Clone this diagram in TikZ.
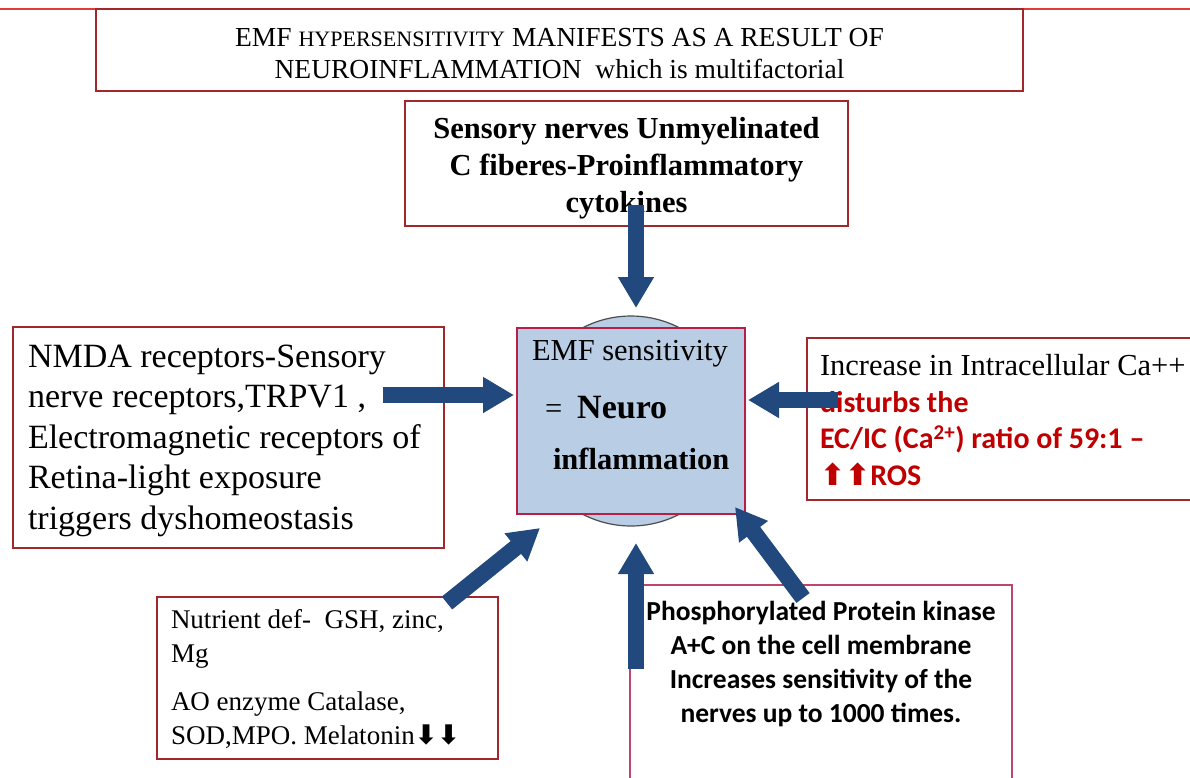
\documentclass[tikz,border=0pt]{standalone}
\usepackage{fontspec}
\setmainfont{Liberation Serif}
\newfontfamily\calfont{Carlito}
\newfontfamily\arrowfont{DejaVu Sans}
\usetikzlibrary{arrows.meta,calc}
\definecolor{boxred}{RGB}{160,40,45}
\definecolor{crimson}{RGB}{185,30,70}
\definecolor{pinkred}{RGB}{190,70,110}
\definecolor{arrowblue}{RGB}{33,73,125}
\definecolor{cfill}{RGB}{185,205,229}
\definecolor{redtext}{RGB}{192,0,0}
\definecolor{topred}{RGB}{225,60,60}
\tikzset{
  frame/.style={draw=boxred, line width=1.4pt, inner sep=0pt, outer sep=0pt},
  txt/.style={inner sep=0pt, outer sep=0pt},
  fat/.style={draw=arrowblue, line width=16.5pt, -{Triangle[length=31pt,width=34pt]}},
}
\begin{document}
\begin{tikzpicture}[x=1pt,y=-1pt]
\useasboundingbox (0,0) rectangle (1190,777);
\clip (0,0) rectangle (1190,777);
\draw[topred, line width=1.5pt] (0,9) -- (1190,9);

% boxes
\node[frame, minimum width=927pt, minimum height=82pt] (titlebox) at (559.5,50) {};
\node[frame, minimum width=443pt, minimum height=125pt] (sensbox) at (626.5,163.5) {};
\node[circle, draw=gray!60!black, fill=cfill, minimum size=210pt, line width=1.2pt, inner sep=0pt] (halo) at (631,421) {};
\node[frame, draw=crimson, fill=cfill, minimum width=228pt, minimum height=186pt] (core) at (631,421) {};
\node[frame, minimum width=431pt, minimum height=221pt] (nmdabox) at (228.5,437.5) {};
\node[frame, minimum width=393pt, minimum height=162pt] (cabox) at (1003.5,419) {};
\node[frame, minimum width=341pt, minimum height=162pt] (nutbox) at (327.5,678) {};
\node[frame, draw=pinkred, minimum width=382pt, minimum height=230pt] (pkbox) at (821,700) {};

% texts (base anchor = baseline of the last line)
\node[txt, align=center, anchor=base, font=\fontsize{27.5}{32}\selectfont] (titletext) at (559.5,78)
  {EMF {\fontsize{22}{32}\selectfont HYPERSENSITIVITY} MANIFESTS AS A RESULT OF\\NEUROINFLAMMATION\ \ which is multifactorial};
\node[txt, align=center, anchor=base, font=\fontsize{30.5}{37}\selectfont\bfseries] (senstext) at (626.5,212)
  {Sensory nerves Unmyelinated\\C fiberes-Proinflammatory\\cytokines};
\node[txt, align=left, anchor=base west, font=\fontsize{30.5}{58}\selectfont] (coretext) at (532,469)
  {EMF sensitivity\\\hspace*{13pt}=\hspace{15pt}{\fontsize{34}{58}\selectfont\bfseries Neuro}\\[-7pt]\hspace*{21pt}{\fontsize{30.5}{58}\selectfont\bfseries inflammation}};
\node[txt, align=left, anchor=base west, font=\fontsize{34}{40.5}\selectfont] (nmdatext) at (28,529)
  {NMDA receptors-Sensory\\nerve receptors,TRPV1 ,\\Electromagnetic receptors of\\Retina-light exposure\\triggers dyshomeostasis};
\node[txt, anchor=base west, font=\fontsize{30.5}{36}\selectfont] (catext) at (820,375)
  {Increase in Intracellular Ca++};
\node[txt, align=left, anchor=base west, text=redtext, font=\calfont\bfseries\fontsize{30}{36.5}\selectfont] (rostext) at (820,485)
  {disturbs the\\EC/IC (Ca\textsuperscript{2+}) ratio of 59:1 –\\{\arrowfont\bfseries ⬆⬆}ROS};
\node[txt, align=left, anchor=base west, font=\fontsize{27}{33.5}\selectfont] (nuttext) at (171,744)
  {Nutrient def-\ \ GSH, zinc,\\Mg\\[15pt]AO enzyme Catalase,\\SOD,MPO. Melatonin{\arrowfont\bfseries ⬇⬇}};
\node[txt, align=center, anchor=base, font=\calfont\bfseries\fontsize{27.5}{34}\selectfont] (pktext) at (821,722)
  {Phosphorylated Protein kinase\\A+C on the cell membrane\\Increases sensitivity of the\\nerves up to 1000 times.};

% arrows
\draw[fat] ($(sensbox.south)+(9.5,-21)$) -- ($(core.north)+(5,-20)$);
\draw[fat] ($(nmdabox.east)+(-61,-42.5)$) -- ($(core.west)+(-3,-26)$);
\draw[fat] ($(cabox.west)+(31,-19)$) -- ($(core.east)+(3,-21)$);
\draw[fat] ($(nutbox.north)+(119.5,6)$) -- ($(core.south west)+(23,14)$);
\draw[fat] ($(pkbox.west)+(6,-31)$) -- ($(core.south)+(5,29)$);
\draw[fat] ($(pkbox.north)+(-18,13)$) -- ($(core.south east)+(-10,-7)$);
\end{tikzpicture}
\end{document}
